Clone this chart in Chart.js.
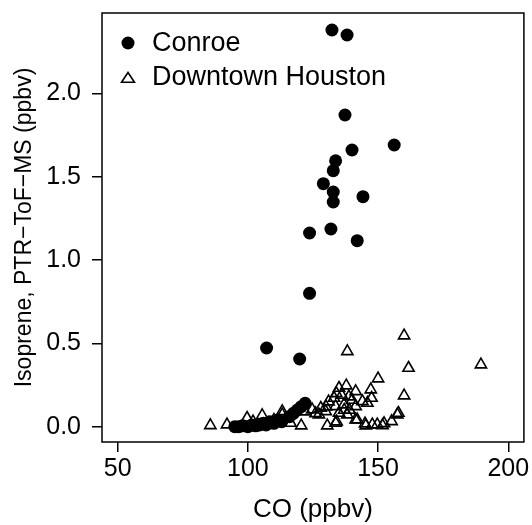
<!DOCTYPE html>
<html>
<head>
<meta charset="utf-8">
<script src="https://cdn.jsdelivr.net/npm/chart.js@4"></script>
<style>
  html, body { margin: 0; padding: 0; background: #fff; }
  #wrap { width: 532px; height: 525px; }
</style>
</head>
<body>
<div id="wrap"><canvas id="c" width="532" height="525"></canvas></div>
<script>
// ---- data ----
const seriesNames = ["Conroe", "Downtown Houston"];
const xTicks = [50, 100, 150, 200];
const yTicks = [0.0, 0.5, 1.0, 1.5, 2.0];

const conroeCO  = [132.3, 138.1, 137.3, 140.0, 156.2, 133.7, 132.8, 129.0, 132.8, 132.8, 144.2, 123.7, 131.9, 142.0, 123.7, 107.2, 119.9,
                   95, 96.5, 98, 100, 101.5, 103, 104.5, 106, 107, 108.5, 110, 111.5, 113, 116, 117.5, 119, 120.5, 122];
const conroeIso = [2.38, 2.35, 1.87, 1.66, 1.69, 1.595, 1.536, 1.458, 1.408, 1.348, 1.38, 1.162, 1.186, 1.116, 0.80, 0.472, 0.406,
                   0.0, 0.0, 0.005, 0.0, 0.01, 0.005, 0.01, 0.02, 0.01, 0.03, 0.02, 0.04, 0.03, 0.06, 0.08, 0.10, 0.12, 0.14];

const houstonCO  = [85.6, 92.0, 99.7, 105.5, 113.2, 113.2, 116.4, 120.5, 124.7, 127.3, 128.0, 129.9, 130.5, 133.1, 133.7, 133.7, 134.1,
                    135.0, 135.0, 136.9, 137.8, 138.2, 138.2, 138.8, 141.4, 141.4, 141.4, 142.0, 144.0, 145.0, 145.3, 145.9, 147.2,
                    147.5, 147.8, 149.7, 150.0, 151.7, 152.3, 155.2, 157.4, 157.8, 160.0, 160.0, 161.7, 189.5,
                    131, 134, 136, 139, 140, 137, 130, 126, 122, 110, 102, 108];
const houstonIso = [0.008, 0.012, 0.052, 0.068, 0.092, 0.072, 0.022, 0.006, 0.102, 0.072, 0.112, 0.092, 0.006, 0.172, 0.122, 0.022, 0.03,
                    0.232, 0.082, 0.132, 0.246, 0.452, 0.072, 0.18, 0.212, 0.122, 0.042, 0.042, 0.152, 0.018, 0.006, 0.142, 0.222,
                    0.172, 0.012, 0.012, 0.288, 0.008, 0.02, 0.032, 0.072, 0.082, 0.546, 0.186, 0.352, 0.372,
                    0.15, 0.2, 0.19, 0.1, 0.16, 0.1, 0.12, 0.08, 0.09, 0.04, 0.03, 0.02];

const toPts = (xs, ys) => xs.map((x, i) => ({ x: x, y: ys[i] }));

const FONT = "'Liberation Sans', Arial, Helvetica, sans-serif";

const boxAndLegend = {
  id: 'boxAndLegend',
  afterDraw(chart) {
    const { ctx, chartArea: a } = chart;
    ctx.save();
    ctx.strokeStyle = '#000';
    ctx.lineWidth = 1.5;
    ctx.strokeRect(a.left, a.top, a.right - a.left, a.bottom - a.top);
    // legend
    const lx = 128, ly1 = 43, ly2 = 78, r = 6.5;
    ctx.fillStyle = '#000';
    ctx.beginPath(); ctx.arc(lx, ly1, r, 0, Math.PI * 2); ctx.fill();
    ctx.lineWidth = 1.6;
    ctx.beginPath();
    for (let k = 0; k < 3; k++) {
      const ang = k * 2 * Math.PI / 3;
      const px = lx + Math.sin(ang) * 7.5, py = ly2 + 1 - Math.cos(ang) * 6.5;
      if (k === 0) ctx.moveTo(px, py); else ctx.lineTo(px, py);
    }
    ctx.closePath(); ctx.stroke();
    ctx.font = '27px ' + FONT;
    ctx.textAlign = 'left';
    ctx.textBaseline = 'middle';
    ctx.fillText(seriesNames[0], 152, ly1 + 1);
    ctx.fillText(seriesNames[1], 152, ly2);
    ctx.restore();
  }
};

new Chart(document.getElementById('c'), {
  type: 'scatter',
  data: {
    datasets: [
      { label: seriesNames[0], data: toPts(conroeCO, conroeIso), pointStyle: 'circle', pointRadius: 6.5,
        pointHoverRadius: 6.5, backgroundColor: '#000', borderColor: '#000', borderWidth: 0, order: 1 },
      { label: seriesNames[1], data: toPts(houstonCO, houstonIso), pointStyle: 'triangle', pointRadius: 6.5,
        pointHoverRadius: 6.5, backgroundColor: 'rgba(0,0,0,0)', borderColor: '#000', borderWidth: 1.6, order: 0 }
    ]
  },
  options: {
    responsive: false,
    animation: false,
    devicePixelRatio: 1,
    layout: { padding: { top: 13, right: 8, left: 0, bottom: 0 } },
    plugins: { legend: { display: false }, tooltip: { enabled: false } },
    scales: {
      x: {
        type: 'linear', min: 44, max: 206,
        afterBuildTicks: s => { s.ticks = xTicks.map(v => ({ value: v })); },
        afterFit: s => { s.height = 83; s.paddingLeft = 0; s.paddingRight = 0; },
        grid: { drawOnChartArea: false, drawTicks: true, tickLength: 10, color: '#000', lineWidth: 1.5 },
        border: { display: false },
        ticks: { color: '#000', font: { family: FONT, size: 25 }, padding: 2, maxRotation: 0,
                 callback: v => String(v) },
        title: { display: true, text: 'CO (ppbv)', color: '#000', font: { family: FONT, size: 26, lineHeight: 1 },
                 padding: { top: 0, bottom: 2 } }
      },
      y: {
        type: 'linear', min: -0.092, max: 2.482,
        afterBuildTicks: s => { s.ticks = yTicks.map(v => ({ value: v })); },
        afterFit: s => { s.width = 102; s.paddingTop = 0; s.paddingBottom = 0; },
        grid: { drawOnChartArea: false, drawTicks: true, tickLength: 10, color: '#000', lineWidth: 1.5 },
        border: { display: false },
        ticks: { color: '#000', font: { family: FONT, size: 25 }, padding: 11,
                 callback: v => Number(v).toFixed(1) },
        title: { display: true, text: 'Isoprene, PTR\u2212ToF\u2212MS (ppbv)', color: '#000',
                 font: { family: FONT, size: 23, lineHeight: 1 }, padding: { top: 13, bottom: 0 } }
      }
    }
  },
  plugins: [boxAndLegend]
});
</script>
</body>
</html>
